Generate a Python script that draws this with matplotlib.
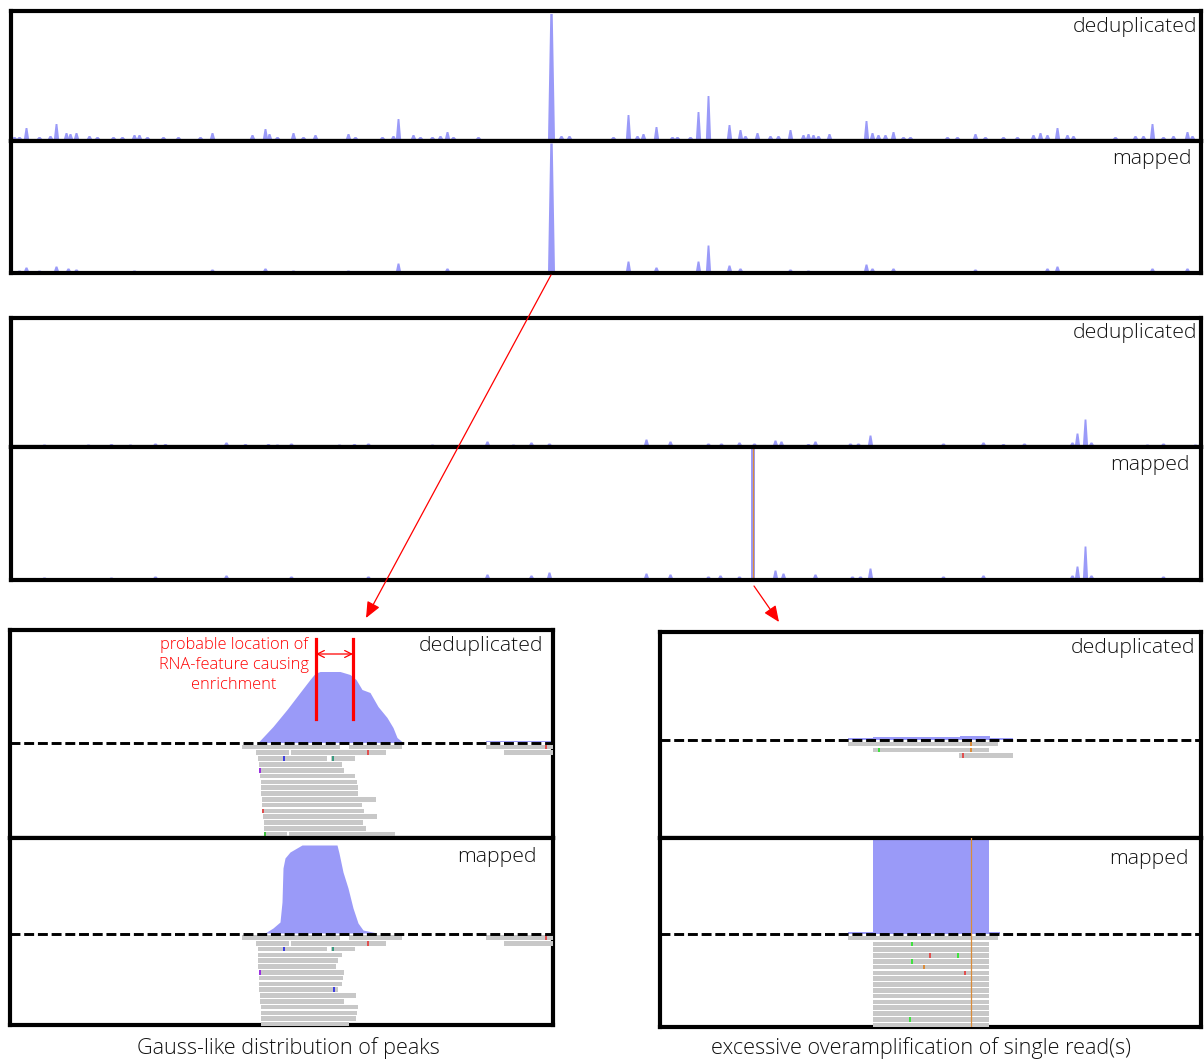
import numpy as np
import matplotlib.pyplot as plt

# figure size in pixels (reference)
W, H = 1204, 1061

# ---------------------------------------------------------------- data
# overview tracks: peak position (reference x) and coverage height (px)
TOP_DEDUP_POS = [14, 19, 26, 39, 50, 56, 66, 70, 76, 89, 97, 113, 122, 134, 139, 147, 163,
                 178, 200, 212, 252, 265, 269, 277, 293, 303, 315, 348, 355, 382, 393, 398,
                 413, 420, 432, 440, 447, 453, 478, 551, 561, 569, 613, 628, 637, 643, 656,
                 672, 677, 690, 698, 708, 729, 740, 745, 757, 770, 778, 790, 803, 808, 813,
                 818, 829, 866, 872, 878, 885, 893, 903, 910, 947, 957, 975, 985, 1003,
                 1017, 1033, 1040, 1047, 1057, 1067, 1073, 1115, 1135, 1143, 1152, 1163,
                 1173, 1187, 1192]
TOP_DEDUP_H = [2, 2, 11, 2, 3, 15, 6, 5, 6, 3, 2, 2, 2, 4, 4, 2, 2,
               2, 2, 6, 4, 10, 5, 2, 6, 2, 4, 5, 2, 2, 3, 20,
               4, 2, 2, 3, 7, 2, 2, 125, 3, 3, 2, 24, 3, 5, 12,
               2, 2, 2, 27, 43, 14, 9, 3, 6, 3, 3, 9, 4, 5, 4,
               3, 5, 18, 6, 4, 4, 7, 2, 2, 2, 2, 5, 2, 2,
               2, 4, 6, 4, 11, 4, 3, 2, 3, 3, 15, 2,
               3, 7, 3]
TOP_MAP_POS = [19, 26, 39, 56, 68, 76, 134, 212, 265, 293, 348, 398, 447, 551, 628, 656,
               698, 708, 729, 740, 790, 808, 866, 872, 893, 975, 1047, 1057, 1152, 1187]
TOP_MAP_H = [1, 4, 1, 5, 3, 2, 1, 2, 3, 1, 1, 8, 3, 128, 10, 4,
             10, 26, 6, 3, 2, 1, 7, 3, 3, 2, 3, 5, 3, 3]

MID_DEDUP_POS = [44, 88, 111, 130, 155, 165, 226, 245, 268, 277, 291, 339, 354, 368, 432,
                 487, 513, 531, 549, 646, 670, 708, 721, 739, 754, 775, 781, 808, 815, 850,
                 858, 870, 943, 983, 1003, 1024, 1072, 1077, 1085, 1091, 1147, 1163, 1195]
MID_DEDUP_H = [1, 1, 1.5, 1, 2, 1.5, 3, 1.5, 1.5, 1, 2, 1, 1.5, 2, 1,
               4, 1, 3, 2, 6, 4, 2, 2, 3, 2, 5, 4, 1.5, 4, 2,
               2, 10, 2, 3, 1.5, 2, 3, 12, 26, 3, 1, 2, 1]
MID_MAP_POS = [44, 111, 155, 226, 291, 368, 487, 531, 549, 646, 670, 708, 720, 739,
               775, 783, 815, 852, 860, 870, 943, 983, 1072, 1077, 1085, 1091, 1163]
MID_MAP_H = [1, 1, 2, 3, 2, 2, 4, 3, 6, 5, 4, 2, 3, 2,
             8, 5, 4, 2, 2, 10, 2, 3, 3, 12, 32, 3, 2]
MID_SPIKE = 753
MID_SPIKE_H = 130

# zoomed panels: coverage profiles (x, height in px above dashed line)
BL_DEDUP_COV_X = [258, 273, 287, 300, 310, 315, 320, 330, 340, 350, 356, 362, 370, 378,
                  387, 393, 397, 403]
BL_DEDUP_COV_H = [0, 16, 33, 50, 63, 69, 71, 71, 71, 68, 63, 53, 50, 36, 25, 15, 5, 0]
BL_DEDUP_TAIL_X = [486, 553]
BL_DEDUP_TAIL_H = [1.5, 1.5]
BL_MAP_COV_X = [265, 273, 280, 282, 283, 285, 290, 302, 337, 339, 343, 348, 353, 358,
                363, 377]
BL_MAP_COV_H = [0, 5, 11, 31, 65, 75, 81, 88, 88, 80, 61, 45, 25, 10, 3, 0]

BR_DEDUP_COV_X = [848, 873, 960, 990, 1013]
BR_DEDUP_COV_H = [1.5, 3, 4, 1.5, 1.5]
BR_MAP_COV_X = [848, 873, 989, 1000]
BR_MAP_COV_H = [1.5, 300, 1.5, 1.5]
BR_MISMATCH_X = 971

# reads: row, start, end
BL_DEDUP_ROW = [0, 0, 0, 1, 1, 1, 2, 2, 3, 4, 5, 6, 7, 8, 9, 10, 11, 12, 13, 14, 15, 15]
BL_DEDUP_START = [242, 349, 486, 256, 291, 504, 258, 331, 259, 260, 260, 261, 261, 261,
                  262, 262, 262, 263, 264, 264, 264, 289]
BL_DEDUP_END = [340, 402, 553, 289, 386, 553, 327, 355, 342, 344, 355, 357, 358, 358,
                376, 362, 364, 377, 363, 366, 287, 395]
BL_DEDUP_MARK_ROW = [0, 1, 2, 2, 4, 11, 15]
BL_DEDUP_MARK_X = [546, 368, 284, 333, 260, 263, 265]
BL_DEDUP_MARK_C = ['#e05050', '#e05050', '#4040e0', '#3a9a80', '#9a30e0', '#e05050', '#40c040']

BL_MAP_ROW = [0, 0, 0, 1, 1, 1, 2, 2, 3, 4, 5, 6, 7, 8, 9, 10, 11, 12, 13, 14, 15]
BL_MAP_START = [242, 349, 486, 256, 291, 504, 258, 331, 258, 258, 258, 259, 259, 259,
                259, 260, 260, 261, 261, 261, 261]
BL_MAP_END = [340, 402, 553, 289, 386, 553, 327, 355, 342, 338, 336, 344, 343, 342,
              338, 356, 344, 358, 357, 356, 349]
BL_MAP_MARK_ROW = [0, 1, 2, 2, 6, 9]
BL_MAP_MARK_X = [546, 368, 284, 333, 260, 334]
BL_MAP_MARK_C = ['#e05050', '#e05050', '#4040e0', '#3a9a80', '#9a30e0', '#4040e0']

BR_DEDUP_ROW = [0, 1, 2]
BR_DEDUP_START = [848, 873, 959]
BR_DEDUP_END = [998, 989, 1013]
BR_DEDUP_MARK_ROW = [0, 1, 1, 2]
BR_DEDUP_MARK_X = [971, 879, 971, 963]
BR_DEDUP_MARK_C = ['#d98c3a', '#40e040', '#d98c3a', '#e05050']

BR_MAP_ROW = list(range(16))
BR_MAP_START = [848] + [873] * 15
BR_MAP_END = [998] + [989] * 15
BR_MAP_MARK_ROW = [1, 3, 3, 4, 5, 6, 14]
BR_MAP_MARK_X = [912, 930, 958, 912, 924, 965, 910]
BR_MAP_MARK_C = ['#40e040', '#e05050', '#40e040', '#40e040', '#d98c3a', '#e05050', '#40e040']

LABELS = ['deduplicated', 'mapped']
CAPTIONS = ['Gauss-like distribution of peaks', 'excessive overamplification of single read(s)']
NOTE = 'probable location of\nRNA-feature causing\nenrichment'

# ---------------------------------------------------------------- style
COV = '#9a9af8'
READ = '#c8c8c8'
TXT = '#111111'
FRAME_LW = 3.0
FONT = ['Open Sans', 'DejaVu Sans']
plt.rcParams['font.family'] = FONT
plt.rcParams['font.weight'] = 'light'

fig = plt.figure(figsize=(W / 100, H / 100), dpi=100)


def px_axes(x0, y0, x1, y1, invert=False):
    ax = fig.add_axes([x0 / W, 1 - y1 / H, (x1 - x0) / W, (y1 - y0) / H])
    ax.set_xticks([])
    ax.set_yticks([])
    for s in ax.spines.values():
        s.set_linewidth(FRAME_LW)
        s.set_color('black')
    ax.set_xlim(x0, x1)
    if invert:
        ax.set_ylim(y1, y0)
    return ax


def peaks(ax, pos, h, w=2.6):
    for p, v in zip(pos, h):
        ww = 3.5 if v > 100 else w
        ax.fill_between([p - ww, p - ww * 0.35, p + ww * 0.35, p + ww], 0, [0, v, v, 0],
                        color=COV, lw=0)


def overview(y0, ymid, y1, dpos, dh, mpos, mh):
    a1 = px_axes(10.5, y0, 1201, ymid)
    a2 = px_axes(10.5, ymid, 1201, y1)
    a1.set_ylim(-2, ymid - y0 - 2)
    a2.set_ylim(-2, y1 - ymid - 2)
    peaks(a1, dpos, dh)
    peaks(a2, mpos, mh)
    return a1, a2


# ---------------------------------------------------------------- overview panels
overview(11, 140.5, 273, TOP_DEDUP_POS, TOP_DEDUP_H, TOP_MAP_POS, TOP_MAP_H)
m1, m2 = overview(318, 447, 580, MID_DEDUP_POS, MID_DEDUP_H, MID_MAP_POS, MID_MAP_H)
m2.bar(MID_SPIKE, MID_SPIKE_H, width=3.2, color=COV, lw=0)
m2.plot([MID_SPIKE, MID_SPIKE], [0, MID_SPIKE_H], color='#d98c3a', lw=0.9)

# ---------------------------------------------------------------- zoomed panels
ROW_STEP = 5.8
READ_H = 4.6


def zoom_track(ax, dash_y, cov_x, cov_h, rows, starts, ends, mrows, mx, mc, step=False):
    base = dash_y - 0.5
    if step:
        ax.fill_between(cov_x, base, base - np.array(cov_h), step='post', color=COV, lw=0)
    else:
        ax.fill_between(cov_x, base, base - np.array(cov_h), color=COV, lw=0)
    ax.axhline(dash_y, color='black', lw=2.1, ls=(0, (3.4, 1.3)), zorder=5)
    first = dash_y + 4
    for r, s, e in zip(rows, starts, ends):
        ax.broken_barh([(s, e - s)], (first + r * ROW_STEP - READ_H / 2, READ_H),
                       color=READ, lw=0, zorder=3)
    for r, x, c in zip(mrows, mx, mc):
        ax.broken_barh([(x - 0.7, 1.4)], (first + r * ROW_STEP - READ_H / 2, READ_H),
                       color=c, lw=0, zorder=4)


bl1 = px_axes(10, 630, 553, 837.5, invert=True)
bl2 = px_axes(10, 837.5, 553, 1025, invert=True)
zoom_track(bl1, 743, BL_DEDUP_COV_X, BL_DEDUP_COV_H, BL_DEDUP_ROW, BL_DEDUP_START,
           BL_DEDUP_END, BL_DEDUP_MARK_ROW, BL_DEDUP_MARK_X, BL_DEDUP_MARK_C)
bl1.fill_between(BL_DEDUP_TAIL_X, 742.5, 742.5 - np.array(BL_DEDUP_TAIL_H), color=COV, lw=0)
zoom_track(bl2, 933.5, BL_MAP_COV_X, BL_MAP_COV_H, BL_MAP_ROW, BL_MAP_START,
           BL_MAP_END, BL_MAP_MARK_ROW, BL_MAP_MARK_X, BL_MAP_MARK_C)

# annotation of the enriched feature
for xv in [316, 353]:
    bl1.plot([xv, xv], [639, 719], color='red', lw=2.3, zorder=6)
bl1.annotate('', xy=(353, 654), xytext=(316, 654),
             arrowprops=dict(arrowstyle='<->,head_length=0.5,head_width=0.25', color='red',
                             lw=0.9, mutation_scale=10, shrinkA=0, shrinkB=0), zorder=6)
bl1.text(234, 665, NOTE, color='red', fontsize=11.8, ha='center', va='center',
         linespacing=1.3, zorder=6)

br1 = px_axes(660, 632, 1201, 838, invert=True)
br2 = px_axes(660, 838, 1201, 1027, invert=True)
zoom_track(br1, 740, BR_DEDUP_COV_X, BR_DEDUP_COV_H, BR_DEDUP_ROW, BR_DEDUP_START,
           BR_DEDUP_END, BR_DEDUP_MARK_ROW, BR_DEDUP_MARK_X, BR_DEDUP_MARK_C, step=True)
zoom_track(br2, 934, BR_MAP_COV_X, BR_MAP_COV_H, BR_MAP_ROW, BR_MAP_START,
           BR_MAP_END, BR_MAP_MARK_ROW, BR_MAP_MARK_X, BR_MAP_MARK_C, step=True)
br2.axvline(BR_MISMATCH_X, color='#d98c3a', lw=0.9, zorder=6)

# ---------------------------------------------------------------- overlay: labels, arrows
ov = fig.add_axes([0, 0, 1, 1], zorder=10)
ov.set_xlim(0, W)
ov.set_ylim(H, 0)
ov.axis('off')
ov.patch.set_alpha(0)

label_pos = [(1197, 27, 0), (1192, 159, 1), (1197, 333, 0), (1190, 465, 1),
             (543, 646, 0), (537, 857, 1), (1195, 648, 0), (1189, 859, 1)]
for x, y, i in label_pos:
    ov.text(x, y, LABELS[i], ha='right', va='center', fontsize=15.3, color=TXT)

ov.text(288, 1048, CAPTIONS[0], ha='center', va='center', fontsize=15.6, color=TXT)
ov.text(921, 1048, CAPTIONS[1], ha='center', va='center', fontsize=15.6, color=TXT)

arrow = dict(arrowstyle='-|>,head_length=0.65,head_width=0.28', color='red', lw=0.9,
             mutation_scale=15, shrinkA=0, shrinkB=0)
ov.annotate('', xy=(366, 618), xytext=(551, 275), arrowprops=arrow)
ov.annotate('', xy=(779, 622), xytext=(754, 586), arrowprops=arrow)

plt.savefig('out.png', dpi=100)
